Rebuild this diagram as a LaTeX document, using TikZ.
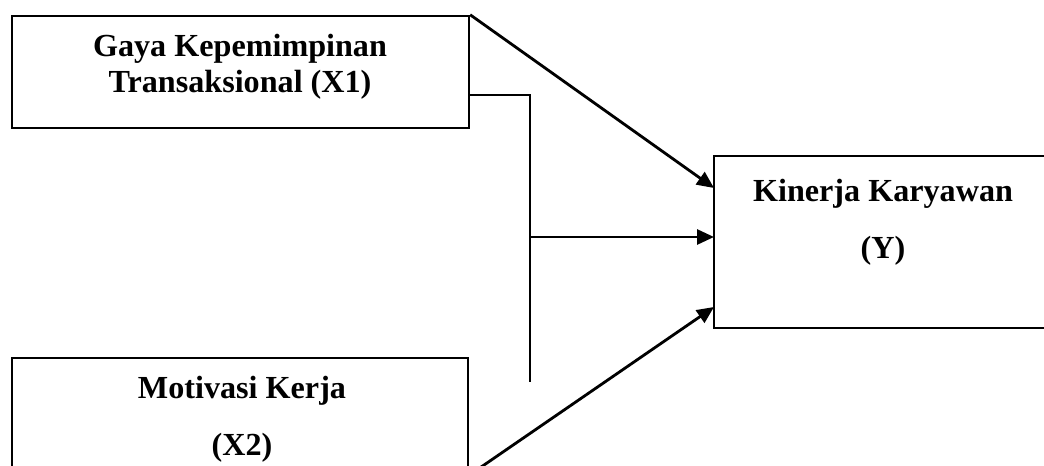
\documentclass[tikz,border=0pt]{standalone}
\usepackage{fontspec}
\setmainfont{Liberation Serif}
\usetikzlibrary{arrows.meta}

\begin{document}
\begin{tikzpicture}[x=0.02cm,y=-0.02cm, >={Triangle[length=0.34cm,width=0.3cm]}]
\useasboundingbox (0,0) rectangle (1044,466);
       \node [draw,line width=1.4pt,minimum width=9.14cm,minimum height=2.24cm] at (240.5,72) (x1) {};
          \node [draw,line width=1.4pt,minimum width=9.12cm,minimum height=2.32cm] at (240,416) (x2) {};
             \node [draw,line width=1.4pt,minimum width=6.72cm,minimum height=3.44cm] at (882,242) (y) {};
%
                \node [align=center,font=\fontsize{18.3}{20.5}\selectfont\bfseries] at (240,67) (x1 text) {Gaya Kepemimpinan\\Transaksional (X1)};
                \node [align=center,font=\fontsize{18.3}{32.3}\selectfont\bfseries] at (242,419) (x2 text) {Motivasi Kerja\\(X2)};
                \node [align=center,font=\fontsize{18.3}{32.3}\selectfont\bfseries] at (883,222) (y text) {Kinerja Karyawan\\(Y)};
%
\coordinate (y in1) at (714,188);
\coordinate (y in2) at (714,237);
\coordinate (y in3) at (714,307);
\coordinate (x1 out) at (469,95);
\coordinate (bend) at (530,95);
\coordinate (joint) at (530,237);
\coordinate (stub) at (530,382);
%
\path[->,line width=1.6pt] (x1.north east) edge (y in1);
\path[->,line width=1.6pt] (joint) edge (y in2);
\path[->,line width=1.6pt] (x2.south east) edge (y in3);
\draw[line width=1.6pt] (x1 out) -- (bend) -- (stub);

\end{tikzpicture}
\end{document}
